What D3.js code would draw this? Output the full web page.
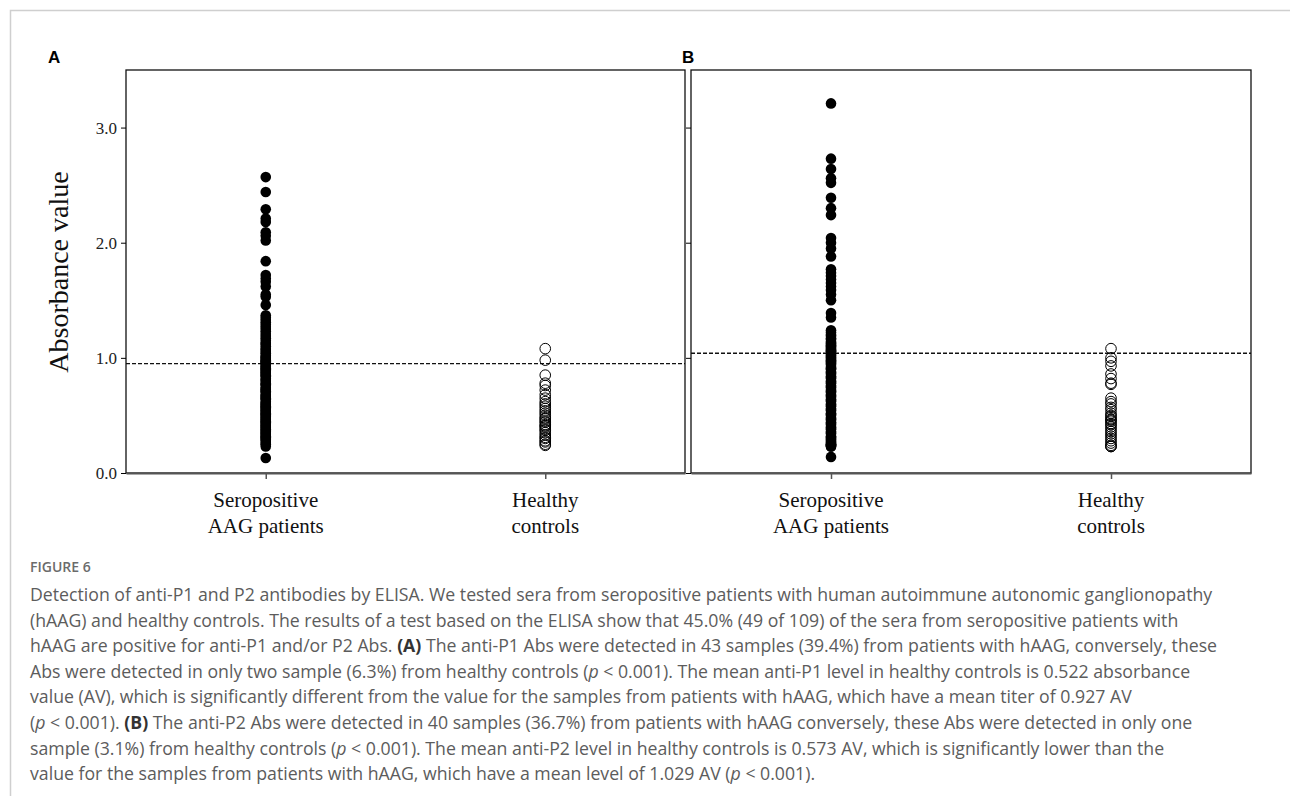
<!DOCTYPE html>
<html>
<head>
<meta charset="utf-8">
<script src="https://cdn.jsdelivr.net/npm/d3@7"></script>
<style>
  body { margin: 0; background: #fff; }
  svg { display: block; }
</style>
</head>
<body>
<script>
// categories on the x axis
var groups = ["Seropositive AAG patients", "Healthy controls"];
var groupLines = [["Seropositive", "AAG patients"], ["Healthy", "controls"]];

// panel A : anti-P1 absorbance values
var p1Patients = [2.57, 2.44, 2.29, 2.21, 2.18, 2.09, 2.06, 2.02, 1.84, 1.72, 1.69, 1.66, 1.62, 1.55, 1.53, 1.46,
    1.37, 1.35, 1.33, 1.31, 1.29, 1.27, 1.25, 1.23, 1.21, 1.19, 1.17, 1.15, 1.13, 1.12, 1.10,
    1.08, 1.07, 1.05, 1.04, 1.02, 1.01, 1.00, 0.99, 0.98, 0.97, 0.96, 0.96,
    0.94, 0.93, 0.92, 0.91, 0.90, 0.89, 0.88, 0.87, 0.86, 0.85,
    0.84, 0.82, 0.81, 0.80, 0.78, 0.77, 0.76, 0.74, 0.73, 0.72,
    0.71, 0.70, 0.68, 0.67, 0.66, 0.65, 0.64, 0.62, 0.61, 0.60,
    0.59, 0.58, 0.57, 0.56, 0.55, 0.54, 0.53, 0.52, 0.51, 0.50,
    0.49, 0.48, 0.47, 0.46, 0.45, 0.44, 0.43, 0.42, 0.41, 0.40,
    0.39, 0.38, 0.37, 0.36, 0.35, 0.34, 0.33, 0.32, 0.31, 0.30,
    0.29, 0.28, 0.26, 0.25, 0.23, 0.13];
var p1Controls = [1.08, 0.98, 0.85, 0.78, 0.76, 0.72, 0.68, 0.65, 0.62, 0.60, 0.58, 0.56, 0.54, 0.52, 0.50, 0.48,
    0.47, 0.45, 0.44, 0.42, 0.41, 0.40, 0.38, 0.37, 0.35, 0.33, 0.31, 0.30, 0.28, 0.27, 0.25, 0.24];

// panel B : anti-P2 absorbance values
var p2Patients = [3.21, 2.73, 2.64, 2.56, 2.52, 2.39, 2.30, 2.24, 2.04, 2.00, 1.95, 1.88, 1.77, 1.74, 1.71, 1.68,
    1.65, 1.62, 1.59, 1.55, 1.50, 1.39, 1.35,
    1.24, 1.22, 1.20, 1.19, 1.17, 1.16, 1.14, 1.13, 1.12, 1.11, 1.10, 1.09, 1.08, 1.07, 1.06, 1.06, 1.05,
    1.03, 1.02, 1.01, 1.00, 0.99, 0.98, 0.97, 0.96, 0.95, 0.94,
    0.92, 0.91, 0.90, 0.88, 0.87, 0.86, 0.84, 0.83, 0.82, 0.80,
    0.79, 0.78, 0.76, 0.75, 0.74, 0.72, 0.71, 0.70, 0.68, 0.67,
    0.66, 0.64, 0.63, 0.62, 0.60, 0.59, 0.58, 0.56, 0.55, 0.54,
    0.52, 0.51, 0.50, 0.48, 0.47, 0.46, 0.44, 0.43, 0.42, 0.40,
    0.39, 0.38, 0.36, 0.35, 0.34, 0.32, 0.31, 0.30, 0.29, 0.28,
    0.27, 0.26, 0.25, 0.25, 0.24, 0.24, 0.23, 0.23, 0.14];
var p2Controls = [1.08, 1.00, 0.97, 0.93, 0.86, 0.82, 0.78, 0.77, 0.65, 0.62, 0.60, 0.57, 0.55, 0.52, 0.50, 0.49,
    0.47, 0.46, 0.45, 0.43, 0.42, 0.40, 0.38, 0.36, 0.34, 0.32, 0.30, 0.28, 0.26, 0.24, 0.23, 0.23];

// cut-off lines
var cutoffs = [0.95, 1.04];
var panelLetters = ["A", "B"];
var yTicks = [0.0, 1.0, 2.0, 3.0];

var captionTitle = "FIGURE 6";
var captionLines = [
    "Detection of anti-P1 and P2 antibodies by ELISA. We tested sera from seropositive patients with human autoimmune autonomic ganglionopathy",
    "(hAAG) and healthy controls. The results of a test based on the ELISA show that 45.0% (49 of 109) of the sera from seropositive patients with",
    "hAAG are positive for anti-P1 and/or P2 Abs. |(A)| The anti-P1 Abs were detected in 43 samples (39.4%) from patients with hAAG, conversely, these",
    "Abs were detected in only two sample (6.3%) from healthy controls (_p_ < 0.001). The mean anti-P1 level in healthy controls is 0.522 absorbance",
    "value (AV), which is significantly different from the value for the samples from patients with hAAG, which have a mean titer of 0.927 AV",
    "(_p_ < 0.001). |(B)| The anti-P2 Abs were detected in 40 samples (36.7%) from patients with hAAG conversely, these Abs were detected in only one",
    "sample (3.1%) from healthy controls (_p_ < 0.001). The mean anti-P2 level in healthy controls is 0.573 AV, which is significantly lower than the",
    "value for the samples from patients with hAAG, which have a mean level of 1.029 AV (_p_ < 0.001)."
];

var width = 1290;
var height = 796;

var svg = d3.select("body")
    .append("svg")
    .attr("width", width)
    .attr("height", height);

// light page frame
svg.append("path")
    .attr("d", "M10.5," + height + "V10.5H" + width)
    .attr("fill", "none")
    .attr("stroke", "#cfcfcf")
    .attr("stroke-width", 1.5);

var panels = [
    { left: 126, right: 685, patients: p1Patients, controls: p1Controls, labels: true },
    { left: 691, right: 1251, patients: p2Patients, controls: p2Controls, labels: false }
];
var plotTop = 70, plotBottom = 473;
var serif = "'Liberation Serif', 'Times New Roman', serif";

//y比例尺 (shared)
var yScale = d3.scaleLinear()
    .domain([0, 3.5])
    .range([plotBottom, plotTop]);

panels.forEach(function(p, i) {
    var xScale = d3.scalePoint()
        .domain(groups)
        .range([p.left, p.right])
        .padding(0.5);

    var g = svg.append("g");

    // frame
    g.append("rect")
        .attr("x", p.left)
        .attr("y", plotTop)
        .attr("width", p.right - p.left)
        .attr("height", plotBottom - plotTop)
        .attr("fill", "none")
        .attr("stroke", "#111")
        .attr("stroke-width", 1.3);

    // y axis
    var yAxis = d3.axisLeft(yScale)
        .tickValues(yTicks)
        .tickSize(5)
        .tickFormat(p.labels ? d3.format(".1f") : "");
    var ya = g.append("g")
        .attr("transform", "translate(" + p.left + ",0)")
        .call(yAxis);
    ya.select(".domain").remove();
    ya.selectAll("text")
        .style("font-family", serif)
        .style("font-size", "17px")
        .attr("fill", "#222")
        .attr("dx", "-1");

    // x axis
    var xAxis = d3.axisBottom(xScale)
        .tickSize(6)
        .tickSizeOuter(0)
        .tickFormat("");
    var xa = g.append("g")
        .attr("transform", "translate(0," + plotBottom + ")")
        .call(xAxis);
    xa.select(".domain")
        .attr("stroke", "#555")
        .attr("stroke-width", 2);
    xa.selectAll(".tick line").attr("stroke", "#555").attr("stroke-width", 1.5);

    // category labels
    groupLines.forEach(function(lines, k) {
        var t = g.append("text")
            .attr("x", xScale(groups[k]))
            .attr("y", 507)
            .attr("text-anchor", "middle")
            .style("font-family", serif)
            .style("font-size", "21px")
            .attr("fill", "#111");
        lines.forEach(function(s, j) {
            t.append("tspan")
                .attr("x", xScale(groups[k]))
                .attr("dy", j ? 26 : 0)
                .text(s);
        });
    });

    // cut-off line
    g.append("line")
        .attr("x1", p.left)
        .attr("x2", p.right)
        .attr("y1", yScale(cutoffs[i]))
        .attr("y2", yScale(cutoffs[i]))
        .attr("stroke", "#111")
        .attr("stroke-width", 1.3)
        .attr("stroke-dasharray", "4,2");

    // patients : filled dots
    g.selectAll("circle.pat")
        .data(p.patients)
        .enter()
        .append("circle")
        .attr("class", "pat")
        .attr("cx", xScale(groups[0]))
        .attr("cy", function(d) { return yScale(d); })
        .attr("r", 5.3)
        .attr("fill", "#000");

    // controls : open dots
    g.selectAll("circle.ctl")
        .data(p.controls)
        .enter()
        .append("circle")
        .attr("class", "ctl")
        .attr("cx", xScale(groups[1]))
        .attr("cy", function(d) { return yScale(d); })
        .attr("r", 5.3)
        .attr("fill", "none")
        .attr("stroke", "#000")
        .attr("stroke-width", 1);

    // panel letter
    svg.append("text")
        .attr("x", i ? 682 : 48)
        .attr("y", 63)
        .style("font-family", "Arial, 'Liberation Sans', sans-serif")
        .style("font-weight", "bold")
        .style("font-size", "17px")
        .text(panelLetters[i]);
});

// y label
svg.append("text")
    .attr("transform", "translate(68,272) rotate(-90)")
    .attr("text-anchor", "middle")
    .style("font-family", serif)
    .style("font-size", "28px")
    .attr("fill", "#111")
    .text("Absorbance value");

// caption
var capFont = "'Open Sans', Lato, sans-serif";
svg.append("text")
    .attr("x", 30)
    .attr("y", 572)
    .style("font-family", capFont)
    .style("font-size", "14px")
    .style("font-weight", "600")
    .attr("fill", "#6b6b6b")
    .text(captionTitle);

captionLines.forEach(function(line, i) {
    var t = svg.append("text")
        .attr("x", 30)
        .attr("y", 601 + i * 25.6)
        .style("font-family", capFont)
        .style("font-size", "17.7px")
        .attr("fill", "#5c5c5c");
    // |..| bold parts, _.._ italic parts
    line.split(/(\|[^|]+\||_[^_]+_)/).forEach(function(part) {
        if (!part) return;
        var s = t.append("tspan");
        if (part[0] === "|") {
            s.style("font-weight", "bold").attr("fill", "#333").text(part.slice(1, -1));
        } else if (part[0] === "_") {
            s.style("font-style", "italic").text(part.slice(1, -1));
        } else {
            s.text(part);
        }
    });
});
</script>
</body>
</html>
